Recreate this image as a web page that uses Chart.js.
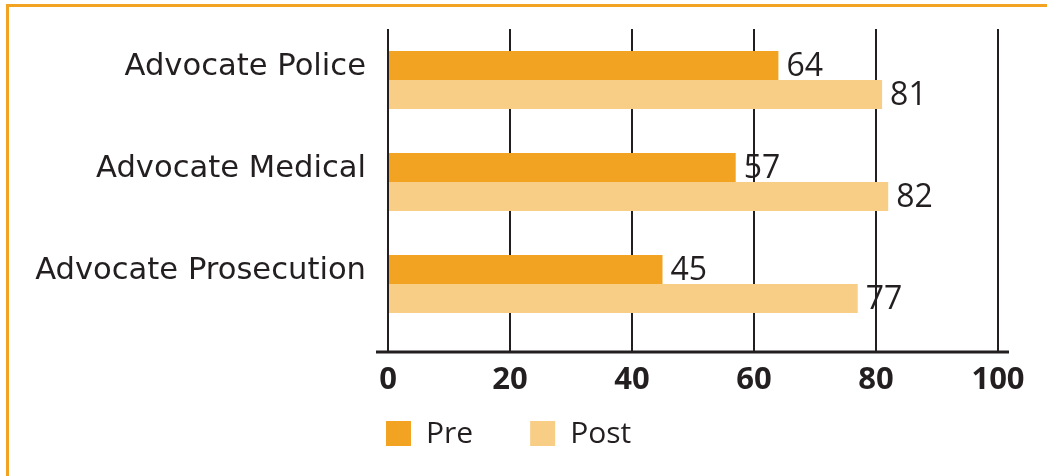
<!DOCTYPE html>
<html>
<head>
<meta charset="utf-8">
<script src="https://cdn.jsdelivr.net/npm/chart.js@4"></script>
<style>
    body { margin: 0; background: #fff; }
    #moldura { position: relative; width: 1047px; height: 476px; overflow: hidden; }
    #borda { position: absolute; left: 6px; top: 4px; right: -10px; bottom: -10px; border-top: 3px solid #f2a322; border-left: 3px solid #f2a322; pointer-events: none; }
    canvas { position: absolute; left: 0; top: 0; }
</style>
</head>
<body>
<div id="moldura">
    <canvas id="grafico" width="1047" height="476"></canvas>
    <div id="borda"></div>
</div>
<script>
const categorias = ['Advocate Police', 'Advocate Medical', 'Advocate Prosecution']
const valoresPre = [64, 57, 45]
const valoresPost = [81, 82, 77]
const ticksX = [0, 20, 40, 60, 80, 100]

const corTexto = '#231f20'
const corPre = '#f2a322'
const corPost = '#f8cd86'
const tamanhoTick = 17

// rótulos com o valor no fim de cada barra
const rotulosValor = {
    id: 'rotulosValor',
    afterDatasetsDraw(chart) {
        const ctx = chart.ctx
        ctx.save()
        ctx.font = '32px "Open Sans"'
        ctx.fillStyle = corTexto
        ctx.textAlign = 'left'
        ctx.textBaseline = 'middle'
        chart.data.datasets.forEach((ds, i) => {
            chart.getDatasetMeta(i).data.forEach((barra, j) => {
                ctx.fillText(ds.data[j], barra.x + 8, barra.y + 1)
            })
        })
        ctx.restore()
    }
}

// linha do eixo x e linha do zero por cima das barras
const linhaEixo = {
    id: 'linhaEixo',
    afterDatasetsDraw(chart) {
        const ctx = chart.ctx
        const area = chart.chartArea
        const zero = chart.scales.x.getPixelForValue(0)
        const yEixo = area.bottom + tamanhoTick
        ctx.save()
        ctx.strokeStyle = corTexto
        ctx.lineWidth = 2
        ctx.beginPath()
        ctx.moveTo(zero, area.top)
        ctx.lineTo(zero, yEixo)
        ctx.stroke()
        ctx.lineWidth = 3
        ctx.beginPath()
        ctx.moveTo(area.left - 12, yEixo)
        ctx.lineTo(area.right + 11, yEixo)
        ctx.stroke()
        ctx.restore()
    }
}

// legenda alinhada com o início do eixo
const legendaManual = {
    id: 'legendaManual',
    afterDraw(chart) {
        const ctx = chart.ctx
        const area = chart.chartArea
        const caixa = 25
        let x = area.left - 2
        const topo = area.bottom + 86
        ctx.save()
        ctx.font = '30px "Open Sans"'
        ctx.textBaseline = 'middle'
        ctx.textAlign = 'left'
        chart.data.datasets.forEach(ds => {
            ctx.fillStyle = ds.backgroundColor
            ctx.fillRect(x, topo, caixa, caixa)
            ctx.fillStyle = corTexto
            ctx.fillText(ds.label, x + caixa + 15, topo + caixa / 2 + 1)
            x += caixa + 15 + ctx.measureText(ds.label).width + 57
        })
        ctx.restore()
    }
}

let graficoBarras

function grafico() {
    const ctx = document.getElementById('grafico').getContext('2d')
    graficoBarras = new Chart(ctx, {
        type: 'bar',
        data: {
            labels: categorias,
            datasets: [{
                label: 'Pre',
                data: valoresPre,
                backgroundColor: corPre,
                borderWidth: 0,
                categoryPercentage: 0.57,
                barPercentage: 1
            }, {
                label: 'Post',
                data: valoresPost,
                backgroundColor: corPost,
                borderWidth: 0,
                categoryPercentage: 0.57,
                barPercentage: 1
            }]
        },
        options: {
            indexAxis: 'y',
            responsive: false,
            animation: false,
            layout: {
                padding: { top: 29, right: 49, bottom: 0, left: 0 }
            },
            scales: {
                x: {
                    position: 'bottom',
                    min: 0,
                    max: 100,
                    afterBuildTicks: (escala) => {
                        escala.ticks = ticksX.map(v => ({ value: v }))
                    },
                    afterFit: (escala) => { escala.height = 141 },
                    grid: {
                        color: corTexto,
                        lineWidth: 2,
                        drawTicks: true,
                        tickLength: tamanhoTick
                    },
                    border: { display: false },
                    ticks: {
                        color: corTexto,
                        font: { family: 'Open Sans', size: 31, weight: 'bold' },
                        padding: 10,
                        maxRotation: 0
                    }
                },
                y: {
                    grid: { display: false, drawTicks: false },
                    border: { display: false },
                    afterFit: (escala) => {
                        escala.width = 388
                        escala.paddingTop = 0
                        escala.paddingBottom = 0
                    },
                    ticks: {
                        color: corTexto,
                        font: { family: 'DejaVu Sans', size: 30.6 },
                        padding: 22,
                        labelOffset: -13
                    }
                }
            },
            plugins: {
                legend: { display: false },
                tooltip: { enabled: false }
            }
        },
        plugins: [rotulosValor, linhaEixo, legendaManual]
    })
}

grafico()
</script>
</body>
</html>
